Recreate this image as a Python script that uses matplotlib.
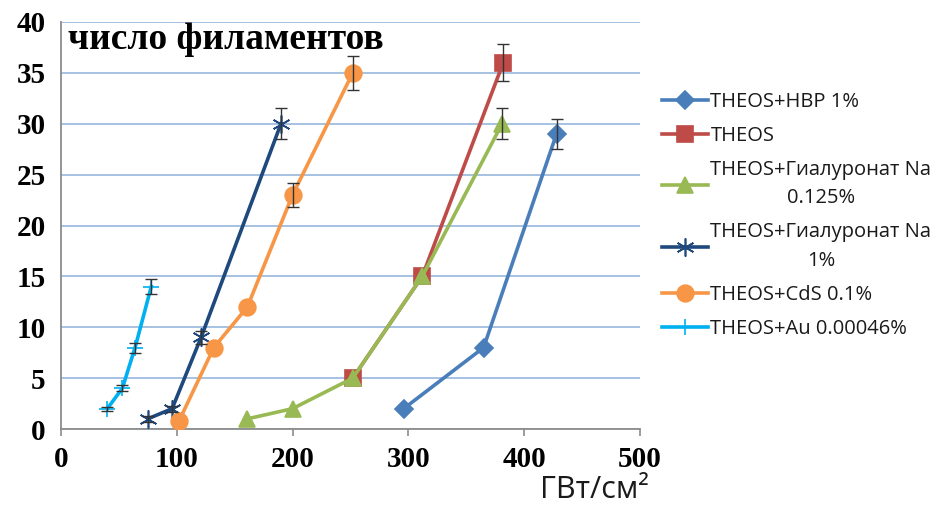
import numpy as np
import matplotlib.pyplot as plt

# пороговая мощность (ГВт/см2) и число филаментов для каждого состава
hbp_x = [296, 365, 428]
hbp_y = [2, 8, 29]
hbp_err = [0, 0, 1.5]

theos_x = [252, 312, 382]
theos_y = [5, 15, 36]
theos_err = [0, 0, 1.8]

hya0125_x = [161, 200, 252, 312, 381]
hya0125_y = [1, 2, 5, 15, 30]
hya0125_err = [0, 0, 0, 0, 1.5]

hya1_x = [75, 96, 121, 190]
hya1_y = [1, 2, 9, 30]
hya1_err = [0.3, 0.3, 0.6, 1.5]

cds_x = [102, 132, 161, 200, 252]
cds_y = [0.8, 8, 12, 23, 35]
cds_err = [0, 0, 0, 1.2, 1.7]

au_x = [40, 53, 64, 78]
au_y = [2, 4, 8, 14]
au_err = [0.2, 0.3, 0.5, 0.7]

labels = ["THEOS+HBP 1%", "THEOS", "THEOS+Гиалуронат Na\n0.125%",
          "THEOS+Гиалуронат Na\n1%", "THEOS+CdS 0.1%", "THEOS+Au 0.00046%"]

series = [
    (hbp_x, hbp_y, hbp_err, "#4A7EBB", "D", 9),
    (theos_x, theos_y, theos_err, "#BE4B48", "s", 11),
    (hya0125_x, hya0125_y, hya0125_err, "#98B954", "^", 11),
    (hya1_x, hya1_y, hya1_err, "#1F497D", (6, 2, 0), 13),
    (cds_x, cds_y, cds_err, "#F79646", "o", 12),
    (au_x, au_y, au_err, "#00B0F0", "+", 11),
]

fig = plt.figure(figsize=(9.41, 5.08), dpi=100)
ax = fig.add_axes([0.0648, 0.1555, 0.6152, 0.8012])

handles = []
for (x, y, e, c, m, ms), lab in zip(series, labels):
    x = np.array(x)
    y = np.array(y)
    e = np.array(e)
    h, = ax.plot(x, y, color=c, lw=2.6, marker=m, ms=ms, mec=c, mfc=c,
                 mew=1.2, label=lab, zorder=3)
    handles.append(h)
    has = e > 0
    ax.errorbar(x[has], y[has], yerr=e[has], fmt="none", ecolor="#333333",
                elinewidth=1.0, capsize=4, capthick=1.0, zorder=4)

ax.set_xlim(0, 500)
ax.set_ylim(0, 40)
ax.set_xticks(np.arange(0, 501, 100))
ax.set_yticks(np.arange(0, 41, 5))
ax.yaxis.grid(True, color="#8EB0DA", lw=1.1)
ax.set_axisbelow(True)
for s in ["top", "right"]:
    ax.spines[s].set_visible(False)
for s in ["left", "bottom"]:
    ax.spines[s].set_color("#8C8C8C")
    ax.spines[s].set_linewidth(1.3)
ax.tick_params(axis="x", length=5, width=1.2, color="#8C8C8C", pad=7)
ax.tick_params(axis="y", length=0, pad=11)
for t in ax.get_xticklabels() + ax.get_yticklabels():
    t.set_fontfamily("Liberation Serif")
    t.set_fontweight("bold")
    t.set_fontsize(21)

ax.text(6, 38.3, "число филаментов", family="Liberation Serif",
        fontweight="bold", fontsize=27, va="center", ha="left")

fig.text(0.632, 0.006, "ГВт/см²", family="Open Sans", fontsize=22,
         ha="center", va="bottom", color="#1a1a1a")

leg = fig.legend(handles=handles, loc="upper left",
                 bbox_to_anchor=(0.695, 0.835), frameon=False,
                 prop={"family": "Open Sans", "size": 14.5},
                 handlelength=2.3, handletextpad=0.1, labelspacing=0.7,
                 borderaxespad=0)
for t in leg.get_texts():
    t.set_multialignment("center")
    t.set_linespacing(1.55)
    t.set_color("#1a1a1a")

fig.savefig("out.png", dpi=100)
